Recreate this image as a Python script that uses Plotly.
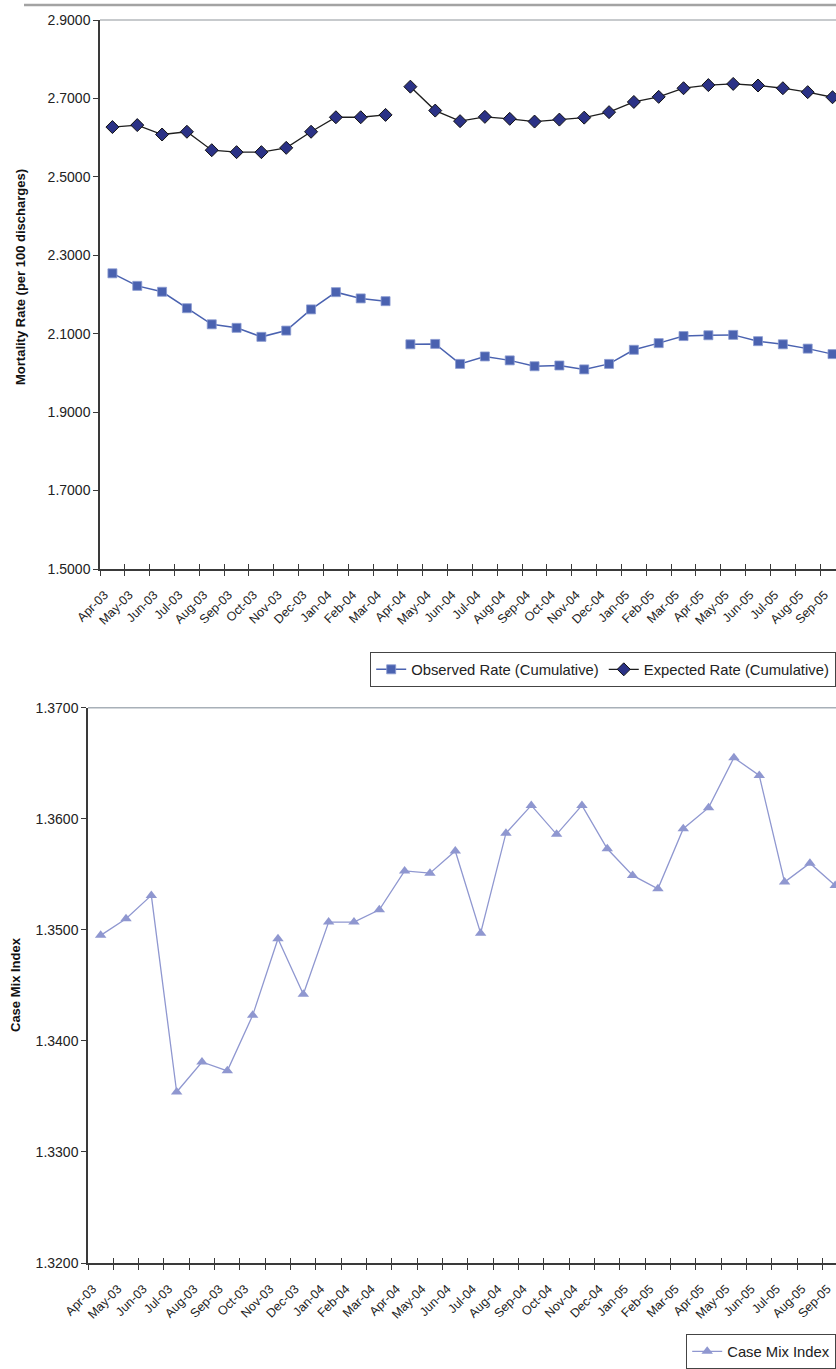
import plotly.graph_objects as go

months = ['Apr-03','May-03','Jun-03','Jul-03','Aug-03','Sep-03','Oct-03','Nov-03','Dec-03',
          'Jan-04','Feb-04','Mar-04','Apr-04','May-04','Jun-04','Jul-04','Aug-04','Sep-04',
          'Oct-04','Nov-04','Dec-04','Jan-05','Feb-05','Mar-05','Apr-05','May-05','Jun-05',
          'Jul-05','Aug-05','Sep-05']

observed_rate = [2.254, 2.222, 2.207, 2.165, 2.124, 2.115, 2.092, 2.108, 2.162, 2.206, 2.190, 2.183,
                 2.073, 2.074, 2.023, 2.042, 2.032, 2.017, 2.019, 2.009, 2.023, 2.059, 2.076, 2.094,
                 2.096, 2.097, 2.081, 2.073, 2.062, 2.048]

expected_rate = [2.627, 2.632, 2.608, 2.615, 2.568, 2.563, 2.563, 2.574, 2.615, 2.652, 2.652, 2.658,
                 2.730, 2.669, 2.642, 2.653, 2.648, 2.641, 2.646, 2.651, 2.665, 2.691, 2.704, 2.726,
                 2.734, 2.737, 2.733, 2.726, 2.716, 2.703]

case_mix_index = [1.3495, 1.3510, 1.3531, 1.3354, 1.3381, 1.3373, 1.3423, 1.3492, 1.3442, 1.3507,
                  1.3507, 1.3518, 1.3553, 1.3551, 1.3571, 1.3497, 1.3587, 1.3612, 1.3586, 1.3612,
                  1.3573, 1.3549, 1.3537, 1.3591, 1.3610, 1.3655, 1.3639, 1.3543, 1.3560, 1.3540]

# break in the series between Mar-04 and Apr-04
break_idx = months.index('Apr-04')

def with_gap(xs, ys):
    return xs[:break_idx] + [None] + xs[break_idx:], ys[:break_idx] + [None] + ys[break_idx:]

W, H = 836, 1369
FONT = "Liberation Sans, Arial, sans-serif"

def px_x(p):
    return p / W

def px_y(p):
    return 1 - p / H

fig = go.Figure()

ox, oy = with_gap(months, observed_rate)
ex, ey = with_gap(months, expected_rate)

fig.add_trace(go.Scatter(
    x=ox, y=oy, name='Observed Rate (Cumulative)', mode='lines+markers',
    line=dict(color='#4a62b0', width=1.5),
    marker=dict(symbol='square', size=9, color='#4a62b0', line=dict(color='#8a9ad0', width=0.8)),
    xaxis='x', yaxis='y', legend='legend', connectgaps=False))

fig.add_trace(go.Scatter(
    x=ex, y=ey, name='Expected Rate (Cumulative)', mode='lines+markers',
    line=dict(color='#1e1e1e', width=1.3),
    marker=dict(symbol='diamond', size=10, color='#2b3286', line=dict(color='#111111', width=1)),
    xaxis='x', yaxis='y', legend='legend', connectgaps=False))

fig.add_trace(go.Scatter(
    x=months, y=case_mix_index, name='Case Mix Index', mode='lines+markers',
    line=dict(color='#8f97d0', width=1.3),
    marker=dict(symbol='triangle-up', size=10, color='#8f97d0'),
    xaxis='x2', yaxis='y2', legend='legend2'))

# invisible helper traces for the inner half of crossing tick marks
fig.add_trace(go.Scatter(x=months, y=expected_rate, mode='lines', line=dict(width=0),
                         hoverinfo='skip', showlegend=False, xaxis='x3', yaxis='y'))
fig.add_trace(go.Scatter(x=months, y=case_mix_index, mode='lines', line=dict(width=0),
                         hoverinfo='skip', showlegend=False, xaxis='x4', yaxis='y2'))

axis_color = '#3a3a3a'
tick_font = dict(family=FONT, size=14, color='#222222')

top_x_range = [-0.5, 29.14]
bot_x_range = [-0.5, 29.03]

common_x = dict(type='category', categoryorder='array', categoryarray=months, automargin=False,
                showgrid=False, zeroline=False, showline=True, linecolor=axis_color, linewidth=1.5,
                tickson='boundaries', ticks='outside', ticklen=5, tickcolor=axis_color, tickwidth=1,
                tickangle=-45, ticklabelstandoff=12, ticklabelshift=-8,
                tickfont=dict(family=FONT, size=12.5, color='#222222'))

inner_x = dict(type='category', categoryorder='array', categoryarray=months, automargin=False,
               showgrid=False, zeroline=False, showline=False, showticklabels=False,
               tickson='boundaries', ticks='inside', ticklen=5, tickcolor=axis_color, tickwidth=1)

legend_font = dict(family=FONT, size=14.8, color='#222222')

fig.update_layout(
    width=W, height=H,
    margin=dict(l=0, r=0, t=0, b=0),
    paper_bgcolor='white', plot_bgcolor='white',
    font=dict(family=FONT, size=13, color='#222222'),
    xaxis=dict(domain=[px_x(100), 1], anchor='y', range=top_x_range, **common_x),
    xaxis3=dict(domain=[px_x(100), 1], anchor='y', overlaying='x', range=top_x_range, **inner_x),
    yaxis=dict(domain=[px_y(569), px_y(20)], anchor='x', range=[1.5, 2.9], dtick=0.2, tick0=1.5,
               tickformat='.4f', showgrid=False, zeroline=False, showline=True, automargin=False,
               linecolor=axis_color, linewidth=1.5, ticks='outside', ticklen=5,
               tickcolor=axis_color, tickfont=tick_font),
    xaxis2=dict(domain=[px_x(88), 1], anchor='y2', range=bot_x_range, **common_x),
    xaxis4=dict(domain=[px_x(88), 1], anchor='y2', overlaying='x2', range=bot_x_range, **inner_x),
    yaxis2=dict(domain=[px_y(1263), px_y(707.7)], anchor='x2', range=[1.32, 1.37], dtick=0.01,
                tick0=1.32, tickformat='.4f', showgrid=False, zeroline=False, showline=True,
                automargin=False, linecolor=axis_color, linewidth=1.5, ticks='outside', ticklen=5,
                tickcolor=axis_color, tickfont=tick_font),
    legend=dict(x=1, y=px_y(652), xanchor='right', yanchor='top', orientation='h',
                bgcolor='white', bordercolor='#444444', borderwidth=1.2,
                font=legend_font, itemwidth=30, tracegroupgap=0),
    legend2=dict(x=1, y=0, xanchor='right', yanchor='bottom', orientation='h',
                 bgcolor='white', bordercolor='#444444', borderwidth=1.2,
                 font=legend_font, itemwidth=30),
    showlegend=True,
    shapes=[
        dict(type='line', xref='paper', yref='paper', x0=px_x(24), x1=1, y0=px_y(5), y1=px_y(5),
             line=dict(color='#a3a3a3', width=2.5)),
        dict(type='line', xref='paper', yref='paper', x0=px_x(100), x1=1, y0=px_y(20), y1=px_y(20),
             line=dict(color='#b4b8bc', width=1.5)),
        dict(type='line', xref='paper', yref='paper', x0=px_x(88), x1=1, y0=px_y(707.7), y1=px_y(707.7),
             line=dict(color='#a8b0b8', width=1.5)),
    ],
    annotations=[
        dict(text='<b>Mortality Rate (per 100 discharges)</b>', textangle=-90, xref='paper', yref='paper',
             x=px_x(20), y=px_y(277), xanchor='center', yanchor='middle', showarrow=False,
             font=dict(family=FONT, size=13, color='#111111')),
        dict(text='<b>Case Mix Index</b>', textangle=-90, xref='paper', yref='paper',
             x=px_x(15), y=px_y(985), xanchor='center', yanchor='middle', showarrow=False,
             font=dict(family=FONT, size=13, color='#111111')),
    ],
)

fig.write_html("out.html")
